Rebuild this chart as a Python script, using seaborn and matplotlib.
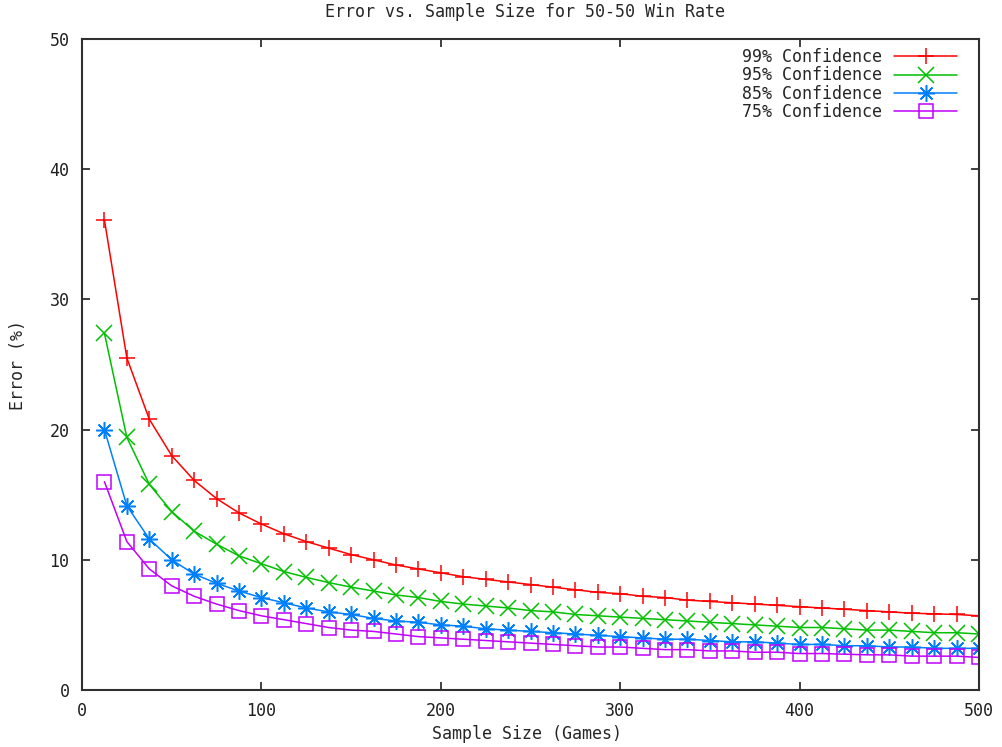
import pandas as pd
import seaborn as sns
import matplotlib.pyplot as plt

# sample sizes (games)
sample_size = [12.5, 25, 37.5, 50, 62.5, 75, 87.5, 100, 112.5, 125,
               137.5, 150, 162.5, 175, 187.5, 200, 212.5, 225, 237.5, 250,
               262.5, 275, 287.5, 300, 312.5, 325, 337.5, 350, 362.5, 375,
               387.5, 400, 412.5, 425, 437.5, 450, 462.5, 475, 487.5, 500]

# error (%)
err_99 = [36.1, 25.5, 20.8, 18.0, 16.1, 14.7, 13.6, 12.75, 12.0, 11.4,
          10.9, 10.4, 10.0, 9.6, 9.3, 9.0, 8.7, 8.5, 8.3, 8.1,
          7.9, 7.7, 7.5, 7.4, 7.2, 7.1, 6.9, 6.8, 6.7, 6.6,
          6.5, 6.4, 6.3, 6.2, 6.1, 6.0, 5.9, 5.85, 5.8, 5.7]
err_95 = [27.4, 19.4, 15.8, 13.7, 12.2, 11.2, 10.3, 9.7, 9.1, 8.65,
          8.25, 7.9, 7.6, 7.3, 7.1, 6.8, 6.6, 6.45, 6.3, 6.1,
          6.0, 5.8, 5.7, 5.6, 5.5, 5.4, 5.3, 5.2, 5.1, 5.0,
          4.9, 4.8, 4.8, 4.7, 4.6, 4.6, 4.5, 4.4, 4.4, 4.3]
err_85 = [20.0, 14.15, 11.6, 10.0, 8.9, 8.2, 7.6, 7.1, 6.7, 6.3,
          6.0, 5.8, 5.5, 5.3, 5.2, 5.0, 4.9, 4.7, 4.6, 4.5,
          4.4, 4.3, 4.2, 4.1, 4.0, 3.9, 3.9, 3.8, 3.7, 3.7,
          3.6, 3.5, 3.5, 3.4, 3.4, 3.3, 3.3, 3.2, 3.2, 3.2]
err_75 = [16.0, 11.4, 9.3, 8.0, 7.2, 6.6, 6.1, 5.7, 5.4, 5.1,
          4.8, 4.6, 4.5, 4.3, 4.1, 4.0, 3.9, 3.8, 3.7, 3.6,
          3.5, 3.4, 3.3, 3.3, 3.2, 3.1, 3.1, 3.0, 3.0, 2.9,
          2.9, 2.8, 2.8, 2.75, 2.7, 2.7, 2.6, 2.6, 2.6, 2.5]

labels = ['99% Confidence', '95% Confidence', '85% Confidence', '75% Confidence']
series = [err_99, err_95, err_85, err_75]
colors = ['#ff0000', '#00c000', '#0080ff', '#c000ff']
markers = ['+', 'x', (8, 2, 0), 's']
msizes = [12, 11, 12, 10]

sns.set_style('ticks')
plt.rcParams['font.family'] = ['DejaVu Sans Mono', 'DejaVu Sans']
plt.rcParams['font.size'] = 12

fig = plt.figure(figsize=(10.02, 7.47), dpi=100)
ax = fig.add_axes([82 / 1002, 1 - 690 / 747, 897 / 1002, 651 / 747])

for lab, vals, c, m, ms in zip(labels, series, colors, markers, msizes):
    df = pd.DataFrame({'n': sample_size, 'err': vals})
    sns.lineplot(data=df, x='n', y='err', ax=ax, color=c, label=lab,
                 marker=m, markersize=ms, mfc='none', mec=c, mew=1.1,
                 linewidth=1.1)

ax.set_xlim(0, 500)
ax.set_ylim(0, 50)
ax.set_xticks([0, 100, 200, 300, 400, 500])
ax.set_yticks([0, 10, 20, 30, 40, 50])
ax.tick_params(direction='in', length=6, width=1.2, pad=9, colors='#202020',
               top=True, right=True, labelsize=12)
for s in ax.spines.values():
    s.set_color('#303030')
    s.set_linewidth(1.5)
ax.set_xlabel('')
ax.set_ylabel('')

fig.text(525 / 1002, 1 - 12 / 747, 'Error vs. Sample Size for 50-50 Win Rate',
         ha='center', va='center', fontsize=12)
fig.text(527 / 1002, 1 - 734 / 747, 'Sample Size (Games)',
         ha='center', va='center', fontsize=12)
fig.text(18 / 1002, 1 - 365 / 747, 'Error (%)', rotation=90,
         ha='center', va='center', fontsize=12)

leg = ax.legend(loc='upper right', bbox_to_anchor=(0.976, 0.986), frameon=False,
                markerfirst=False, handlelength=3.8, handletextpad=0.7,
                labelspacing=0.02, borderpad=0, borderaxespad=0, numpoints=1)

fig.savefig('out.png', dpi=100)
